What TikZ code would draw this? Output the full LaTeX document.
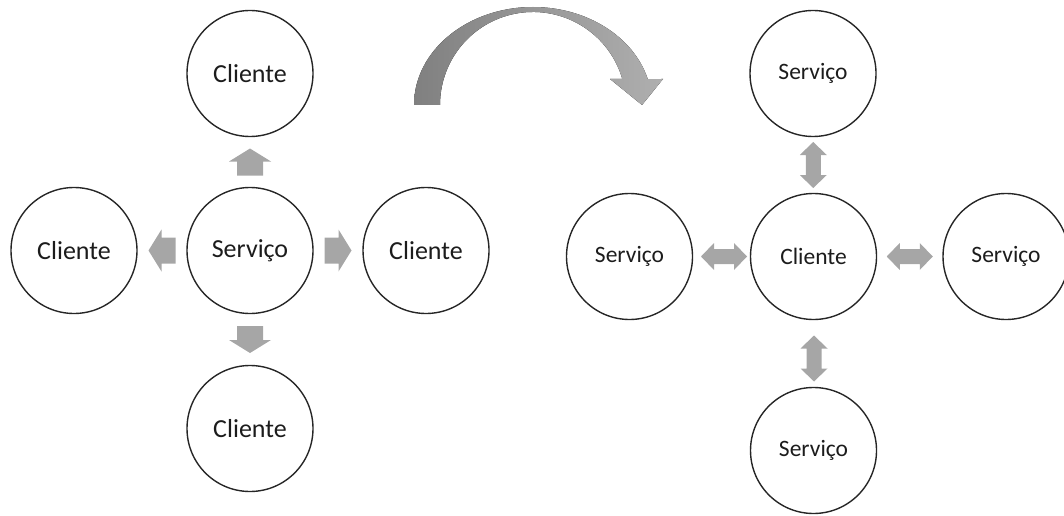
\documentclass[tikz,border=0pt]{standalone}
\usepackage{fontspec}
\setmainfont{Carlito}
\usetikzlibrary{calc}
\definecolor{ringcol}{RGB}{38,38,38}
\definecolor{blockcol}{RGB}{166,166,166}
\definecolor{txtcol}{RGB}{28,28,28}
\definecolor{bendA}{RGB}{128,128,128}
\definecolor{bendB}{RGB}{175,175,175}

\begin{document}
\begin{tikzpicture}[x=1pt,y=1pt,
  ring/.style={circle,draw=ringcol,line width=1.4pt,minimum size=126pt,inner sep=0pt,text=txtcol},
  bigtxt/.style={font=\fontsize{26}{30}\selectfont},
  smalltxt/.style={font=\fontsize{23.5}{28}\selectfont},
  oneway/.pic={\fill[blockcol] (-13.5,-13)--(0.5,-13)--(0.5,-21)--(13.5,0)--(0.5,21)--(0.5,13)--(-13.5,13)--cycle;},
  twoway/.pic={\fill[blockcol] (-23,0)--(-10,13.5)--(-10,7.5)--(10,7.5)--(10,13.5)--(23,0)--(10,-13.5)--(10,-7.5)--(-10,-7.5)--(-10,-13.5)--cycle;}]

\useasboundingbox (0,0) rectangle (1064,515);

% --- one service, many clients ---
\node[ring,bigtxt] (serv)   at (250,264.5) {Serviço};
\node[ring,bigtxt] (cTop)   at (250,441.5) {Cliente};
\node[ring,bigtxt] (cLeft)  at (74,264.5)  {Cliente};
\node[ring,bigtxt] (cRight) at (426,264.5) {Cliente};
\node[ring,bigtxt] (cBot)   at (250,86.5)  {Cliente};

\path ($(serv.north)!0.5!(cTop.south)$)   pic[rotate=90]  {oneway};
\path ($(serv.west)!0.5!(cLeft.east)$)    pic[rotate=180] {oneway};
\path ($(serv.east)!0.5!(cRight.west)$)   pic              {oneway};
\path ($(serv.south)!0.5!(cBot.north)$)   pic[rotate=-90] {oneway};

% --- one client, many services ---
\node[ring,smalltxt] (cli)    at (813.5,258.5) {Cliente};
\node[ring,smalltxt] (sTop)   at (813,441.5)   {Serviço};
\node[ring,smalltxt] (sLeft)  at (629.5,258.5) {Serviço};
\node[ring,smalltxt] (sRight) at (1006,258.5)  {Serviço};
\node[ring,smalltxt] (sBot)   at (813.5,64.5)  {Serviço};

\path ($(cli.north)!0.5!(sTop.south)$)          pic[rotate=90] {twoway};
\path ($(cli.west)!0.5!(sLeft.east)+(2.5,0)$)   pic            {twoway};
\path ($(cli.east)!0.5!(sRight.west)$)          pic            {twoway};
\path ($(cli.south)!0.5!(sBot.north)+(0.5,-5)$) pic[rotate=90] {twoway};

% --- curved transition arrow ---
\fill[left color=bendA,right color=bendB]
  (414,410) arc[start angle=180,end angle=15.38,x radius=119,y radius=98]
  -- (663,436) -- (642,410) -- (610,436) -- (622.3,436)
  arc[start angle=16.23,end angle=180,radius=93]
  -- cycle;
\end{tikzpicture}
\end{document}
